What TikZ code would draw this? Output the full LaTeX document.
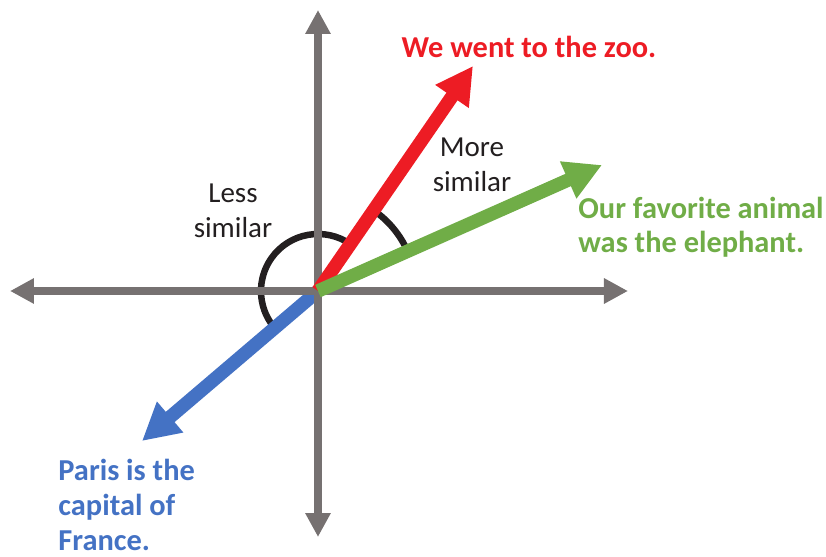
\documentclass[tikz,border=0pt]{standalone}
\usepackage{fontspec}
\setmainfont{Carlito}
\usetikzlibrary{arrows.meta}
\definecolor{axisgray}{RGB}{118,113,113}
\definecolor{zoored}{RGB}{237,28,36}
\definecolor{elegreen}{RGB}{112,173,71}
\definecolor{parisblue}{RGB}{68,114,196}
\definecolor{arcblack}{RGB}{35,31,32}
\tikzset{
  axis/.style={axisgray,line width=4.35pt,-{Triangle[width=12pt,length=12pt]}},
  vec/.style={line width=6.75pt,-{Triangle[width=19pt,length=18.5pt]}},
  angarc/.style={arcblack,line width=3.25pt},
  sent/.style={font=\fontsize{15.2}{17.25}\selectfont\bfseries,align=left,inner sep=0pt},
  note/.style={arcblack,font=\fontsize{14.5}{17.5}\selectfont,align=center,inner sep=0pt}
}
\begin{document}
\begin{tikzpicture}[x=50pt,y=50pt]
    \useasboundingbox (-3.18,-2.66) rectangle (5.08,2.91);
    \coordinate (o) at (0,0);
    \coordinate (zoo) at (1.55,2.25);
    \coordinate (ele) at (2.84,1.26);
    \coordinate (par) at (-1.76,-1.50);
    \coordinate (xl) at (-3.08,0);
    \coordinate (xr) at (3.10,0);
    \coordinate (yt) at (0,2.81);
    \coordinate (yb) at (0,-2.46);
    % angle arcs
    \draw[angarc] ([shift={(55:0.57)}]o) arc[start angle=55,end angle=218,radius=0.57];
    \draw[angarc] ([shift={(24:0.98)}]o) arc[start angle=24,end angle=55,radius=0.98];
    \draw[vec,parisblue] (o) -- (par);
    % axes
    \draw[axis] (o) -- (xl);
    \draw[axis] (o) -- (xr);
    \draw[axis] (o) -- (yt);
    \draw[axis] (o) -- (yb);
    \draw[vec,zoored] (o) -- (zoo);
    \draw[vec,elegreen] (o) -- (ele);
    % labels (base = last line)
    \node[sent,zoored,anchor=base] (zoolbl) at (2.11,2.33) {We went to the zoo.};
    \node[sent,elegreen,anchor=base west] (elelbl) at (2.60,0.38) {Our favorite animal\\was the elephant.};
    \node[sent,parisblue,anchor=base west] (parlbl) at (-2.60,-2.59) {Paris is the\\capital of\\France.};
    \node[note,anchor=base] (more) at (1.54,0.99) {More\\similar};
    \node[note,anchor=base] (less) at (-0.85,0.53) {Less\\similar};
\end{tikzpicture}
\end{document}
